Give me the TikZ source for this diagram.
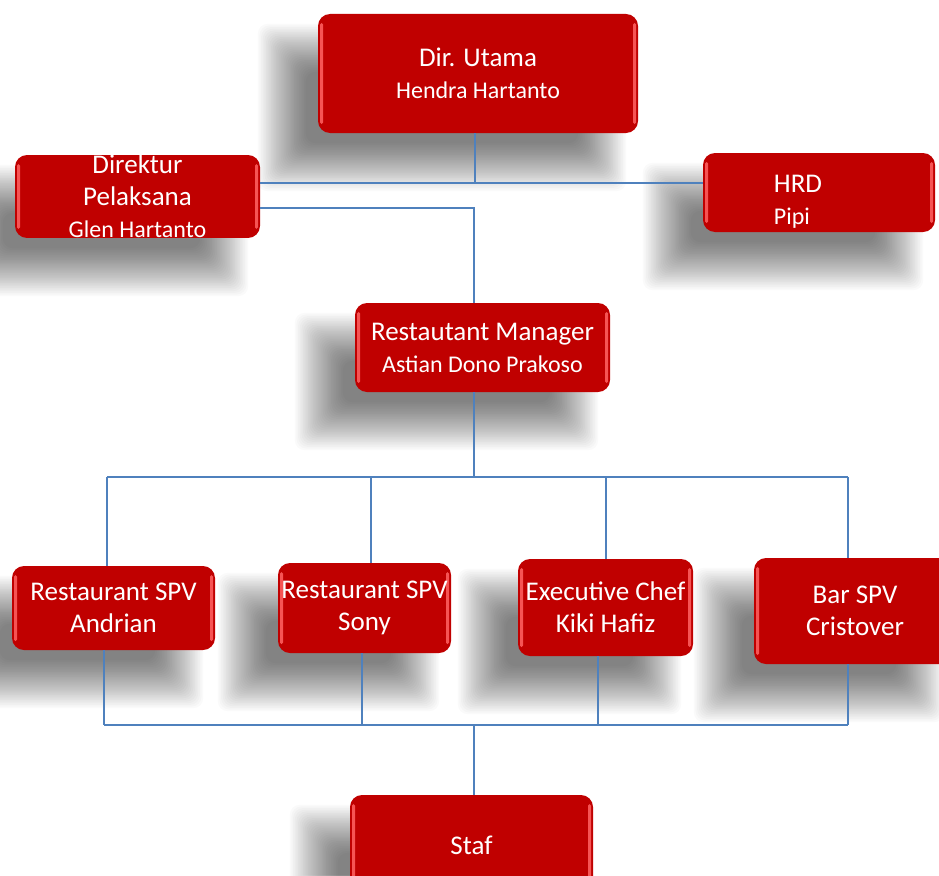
\documentclass[tikz,border=0pt]{standalone}
\usepackage{fontspec}
\setmainfont{Carlito}
\definecolor{boxred}{RGB}{192,0,0}
\definecolor{glossred}{RGB}{246,84,84}
\definecolor{lineblue}{RGB}{79,129,189}
\newcommand\namefont{\fontsize{24}{32}\selectfont}
\pgfdeclarelayer{bg}
\pgfsetlayers{bg,main}
% soft shadow: stacked translucent rectangles, offset down and left
\newcommand\softshadow[1]{%
  \foreach \i in {0,...,29}{%
    \pgfmathsetmacro\e{24-48*\i/29}%
    \fill[black, opacity=0.019, rounded corners=10pt]
      ([xshift=-36pt-\e pt, yshift=-34pt+\e pt]#1.north west) rectangle
      ([xshift=-36pt+\e pt, yshift=-34pt-\e pt]#1.south east);
  }}

\begin{document}
\begin{tikzpicture}[x=1pt,y=-1pt,
  box/.style={rounded corners=12pt, fill=boxred, text=white, align=center, inner sep=0pt,
    font=\fontsize{27}{32}\selectfont,
    path picture={
      \fill[glossred, rounded corners=1.5pt] ([xshift=2pt,yshift=-9pt]path picture bounding box.north west)
        rectangle ([xshift=5pt,yshift=9pt]path picture bounding box.south west);
      \fill[glossred, rounded corners=1.5pt] ([xshift=-5pt,yshift=-9pt]path picture bounding box.north east)
        rectangle ([xshift=-2pt,yshift=9pt]path picture bounding box.south east);
    }},
  link/.style={draw=lineblue, line width=1.6pt}]
  \useasboundingbox (0,0) rectangle (939,875);

  % top level
  \node[box, minimum width=320pt, minimum height=119pt] (dirut) at (478,73.5) {Dir. Utama\\{\namefont Hendra Hartanto}};
  \node[box, minimum width=245pt, minimum height=77pt] (dirpel) at (137.5,196.5) {Direktur\\Pelaksana\\{\namefont Glen Hartanto}};
  \node[box, minimum width=232pt, minimum height=79pt] (hrd) at (819,192.5) {};
  \node[font=\fontsize{27}{32}\selectfont, text=white, align=left, inner sep=0pt] (hrdtxt) at (798,202) {HRD\\{\namefont Pipi}};
  \node[box, minimum width=255pt, minimum height=89pt] (rm) at (482.5,347.5) {Restautant Manager\\{\namefont Astian Dono Prakoso}};

  % supervisors
  \node[box, minimum width=203pt, minimum height=84pt] (spvA) at (113.5,608) {Restaurant SPV\\Andrian};
  \node[box, minimum width=173pt, minimum height=90pt] (spvS) at (364.5,608) {Restaurant SPV\\Sony};
  \node[box, minimum width=175pt, minimum height=97pt] (chef) at (605.5,607.5) {Executive Chef\\Kiki Hafiz};
  \node[box, minimum width=202pt, minimum height=106pt] (bar) at (855,611) {Bar SPV\\Cristover};
  \node[box, minimum width=243pt, minimum height=100pt] (staf) at (471.5,845) {Staf};

  \begin{pgfonlayer}{bg}
    \fill[white] (0,0) rectangle (939,875);
    \foreach \n in {dirut,dirpel,hrd,rm,spvA,spvS,chef,bar,staf}{\softshadow{\n}}
  \end{pgfonlayer}

  % connectors
  \coordinate (topj) at (475,183);
  \draw[link] (topj |- dirut.south) -- (topj);
  \draw[link] (dirpel.east |- topj) -- (hrd.west |- topj);
  \coordinate (rmj) at (474,208);
  \draw[link] (dirpel.east |- rmj) -- (rmj) -- (rmj |- rm.north);
  \coordinate (busj) at (474,477);
  \draw[link] (busj |- rm.south) -- (busj);

  \coordinate (upL) at (107,477);
  \coordinate (upR) at (848,477);
  \draw[link] (upL) -- (upR);
  \foreach \n/\x in {spvA/107, spvS/371, chef/606, bar/848}{
    \coordinate (up\n) at (\x,477);
    \draw[link] (up\n) -- (up\n |- \n.north);
  }

  \coordinate (dnL) at (104,725);
  \coordinate (dnR) at (848,725);
  \draw[link] (dnL) -- (dnR);
  \foreach \n/\x in {spvA/104, spvS/362, chef/598, bar/848}{
    \coordinate (dn\n) at (\x,725);
    \draw[link] (dn\n |- \n.south) -- (dn\n);
  }
  \coordinate (stafj) at (474,725);
  \draw[link] (stafj) -- (stafj |- staf.north);
\end{tikzpicture}
\end{document}
